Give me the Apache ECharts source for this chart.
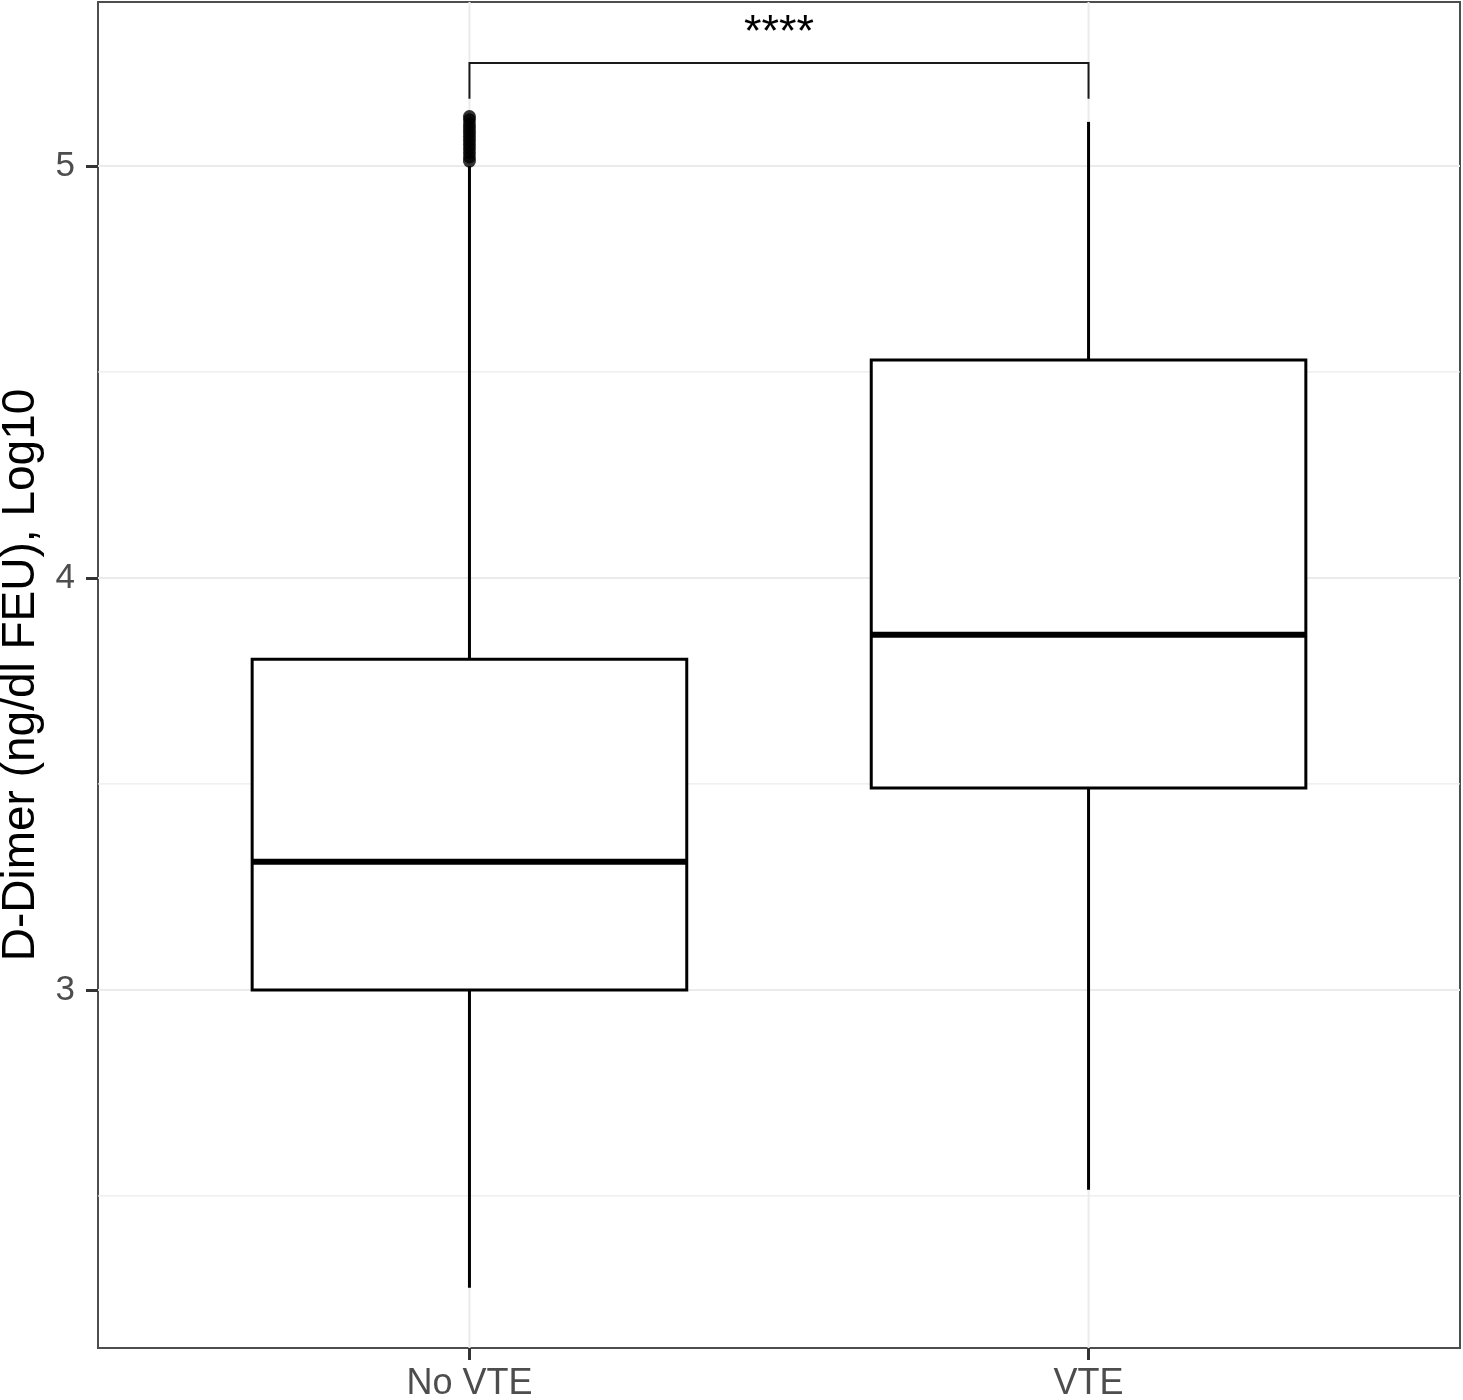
<!DOCTYPE html>
<html>
<head>
<meta charset="utf-8">
<script src="https://cdn.jsdelivr.net/npm/echarts@6/dist/echarts.min.js"></script>
<style>
  html, body { margin: 0; padding: 0; background: #fff; }
  #main { width: 1463px; height: 1400px; }
</style>
</head>
<body>
<div id="main"></div>
<script>
const groups = ["No VTE", "VTE"];
const groupPos = [0, 1];
// [lower whisker, Q1, median, Q3, upper whisker]  (log10 scale)
const boxStats = [
  [2.277, 3.0, 3.311, 3.803, 5.0],
  [2.515, 3.49, 3.862, 4.529, 5.107]
];
// outliers above the No VTE whisker (dense cluster)
const outliersNoVte = [5.012, 5.022, 5.032, 5.042, 5.052, 5.062, 5.072, 5.082, 5.092, 5.102, 5.112, 5.12];
const yMajor = [3, 4, 5];
const yMinor = [2.5, 3.5, 4.5];
const yMin = 2.131;
const yMax = 5.398;
// significance bracket between the two groups
const bracketLow = 5.163;
const bracketTop = 5.25;
const bracketLabelY = 5.322;
const bracketLabel = "****";

const font = "Liberation Sans, Arial, Helvetica, sans-serif";

let chartDom = document.getElementById("main");
let myChart = echarts.init(chartDom);

let option = {
  animation: false,
  backgroundColor: "#fff",
  grid: {
    left: 98,
    right: 3,
    top: 2,
    bottom: 52,
    outerBoundsMode: "none",
    show: true,
    borderColor: "#4d4d4d",
    borderWidth: 2,
    backgroundColor: "#fff"
  },
  xAxis: {
    type: "value",
    min: -0.6,
    max: 1.6,
    axisLine: { show: false, onZero: false },
    axisTick: { show: true, length: 12, customValues: groupPos, lineStyle: { color: "#333", width: 3 } },
    axisLabel: {
      color: "#4d4d4d",
      fontSize: 36,
      fontFamily: font,
      margin: 18,
      customValues: groupPos,
      formatter: v => groups[Math.round(v)]
    },
    splitLine: { show: false }
  },
  yAxis: {
    type: "value",
    min: yMin,
    max: yMax,
    axisLine: { show: false, onZero: false },
    axisTick: { show: true, length: 12, customValues: yMajor, lineStyle: { color: "#333", width: 3 } },
    axisLabel: { color: "#4d4d4d", fontSize: 35, fontFamily: font, margin: 23, customValues: yMajor },
    splitLine: { show: false },
    name: "D-Dimer (ng/dl FEU), Log10",
    nameLocation: "middle",
    nameRotate: 90,
    nameGap: 54,
    nameTextStyle: { color: "#000", fontSize: 46, fontFamily: font }
  },
  series: [
    {
      // horizontal grid lines
      name: "hgrid",
      type: "custom",
      z: 1,
      silent: true,
      data: yMajor.map(v => [0, v, 2]).concat(yMinor.map(v => [0, v, 1.2])),
      renderItem: function (params, api) {
        const cs = params.coordSys;
        const y = api.coord([0, api.value(1)])[1];
        return {
          type: "line",
          shape: { x1: cs.x, y1: y, x2: cs.x + cs.width, y2: y },
          style: { stroke: "#ebebeb", lineWidth: api.value(2) }
        };
      }
    },
    {
      // vertical grid lines at the groups
      name: "vgrid",
      type: "custom",
      z: 1,
      silent: true,
      data: groupPos.map(p => [p, yMin]),
      renderItem: function (params, api) {
        const cs = params.coordSys;
        const x = api.coord([api.value(0), yMin])[0];
        return {
          type: "line",
          shape: { x1: x, y1: cs.y, x2: x, y2: cs.y + cs.height },
          style: { stroke: "#ebebeb", lineWidth: 2 }
        };
      }
    },
    {
      name: "box",
      type: "custom",
      z: 5,
      data: boxStats.map((s, i) => [groupPos[i]].concat(s)),
      encode: { x: 0, y: [1, 2, 3, 4, 5] },
      renderItem: function (params, api) {
        const x = api.value(0);
        const lo = api.coord([x, api.value(1)]);
        const q1 = api.coord([x, api.value(2)]);
        const med = api.coord([x, api.value(3)]);
        const q3 = api.coord([x, api.value(4)]);
        const hi = api.coord([x, api.value(5)]);
        const half = api.size([0.351, 0])[0];
        const st = { stroke: "#000", lineWidth: 3, fill: null };
        return {
          type: "group",
          children: [
            { type: "line", shape: { x1: lo[0], y1: lo[1], x2: q1[0], y2: q1[1] }, style: st },
            { type: "line", shape: { x1: q3[0], y1: q3[1], x2: hi[0], y2: hi[1] }, style: st },
            {
              type: "rect",
              shape: { x: q1[0] - half, y: q3[1], width: half * 2, height: q1[1] - q3[1] },
              style: { stroke: "#000", lineWidth: 3, fill: "#fff" }
            },
            {
              type: "line",
              shape: { x1: med[0] - half, y1: med[1], x2: med[0] + half, y2: med[1] },
              style: { stroke: "#000", lineWidth: 6 }
            }
          ]
        };
      }
    },
    {
      name: "outliers",
      type: "scatter",
      z: 6,
      symbol: "circle",
      symbolSize: 13,
      itemStyle: { color: "#000" },
      data: outliersNoVte.map(v => [groupPos[0], v])
    },
    {
      name: "bracket",
      type: "custom",
      z: 6,
      silent: true,
      data: [[groupPos[0], bracketLow, groupPos[1], bracketTop, bracketLabelY]],
      renderItem: function (params, api) {
        const a = api.coord([api.value(0), api.value(1)]);
        const b = api.coord([api.value(0), api.value(3)]);
        const c = api.coord([api.value(2), api.value(3)]);
        const d = api.coord([api.value(2), api.value(1)]);
        const t = api.coord([api.value(0), api.value(4)]);
        return {
          type: "group",
          children: [
            {
              type: "polyline",
              shape: { points: [a, b, c, d] },
              style: { stroke: "#1a1a1a", lineWidth: 2, fill: null }
            },
            {
              type: "text",
              style: {
                text: bracketLabel,
                x: (b[0] + c[0]) / 2,
                y: t[1],
                align: "center",
                verticalAlign: "middle",
                fontSize: 45,
                fontFamily: font,
                fill: "#000"
              }
            }
          ]
        };
      }
    }
  ]
};

myChart.setOption(option);
</script>
</body>
</html>
